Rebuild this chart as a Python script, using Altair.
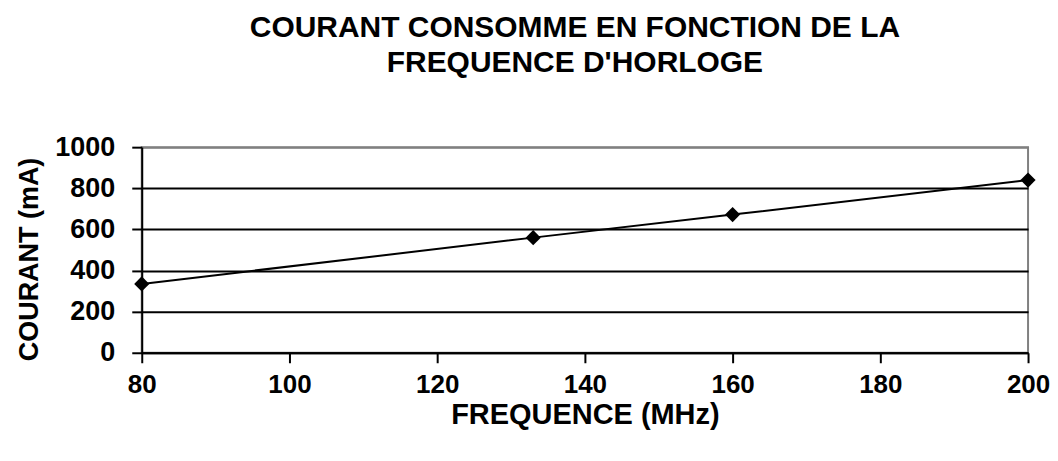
import altair as alt
import pandas as pd

frequence = [80, 133, 160, 200]
courant = [335, 560, 672, 840]
x_ticks = [80, 100, 120, 140, 160, 180, 200]
y_ticks = [0, 200, 400, 600, 800, 1000]

df = pd.DataFrame({"f": frequence, "c": courant})

FONT = "Liberation Sans"

x = alt.X("f:Q", scale=alt.Scale(domain=[80, 200], nice=False, zero=False),
          axis=alt.Axis(values=x_ticks, title="FREQUENCE (MHz)", grid=False, format="d",
                        domainColor="black", domainWidth=2,
                        tickColor="black", tickWidth=2, tickSize=10,
                        labelFont=FONT, labelFontSize=26, labelFontWeight="bold",
                        labelColor="black", labelPadding=9, labelFlush=False,
                        titleFont=FONT, titleFontSize=29, titleFontWeight="bold",
                        titleColor="black", titleX=444, titleY=62,
                        titleBaseline="middle", titleAlign="center"))
y = alt.Y("c:Q", scale=alt.Scale(domain=[0, 1000], nice=False),
          axis=alt.Axis(values=y_ticks, title="COURANT (mA)", grid=True, format="d",
                        gridColor={"condition": {"test": "datum.value === 1000", "value": "#808080"}, "value": "black"},
                        gridWidth=2,
                        domainColor="black", domainWidth=2,
                        tickColor="black", tickWidth=2, tickSize=10,
                        labelFont=FONT, labelFontSize=27, labelFontWeight="bold",
                        labelColor="black", labelPadding=17, labelFlush=False,
                        titleFont=FONT, titleFontSize=27, titleFontWeight="bold",
                        titleColor="black", titleX=-112, titleY=112, titleAngle=-90,
                        titleBaseline="middle", titleAlign="center"))

line = alt.Chart(df).mark_line(color="black", strokeWidth=2).encode(x=x, y=y)
pts = alt.Chart(df).mark_point(shape="diamond", filled=True, color="black",
                               size=230, opacity=1).encode(x=x, y=y)

chart = alt.layer(line, pts).properties(
    width=888, height=206,
    title=alt.TitleParams(
        text=["COURANT CONSOMME EN FONCTION DE LA", "FREQUENCE D'HORLOGE"],
        font=FONT, fontSize=30, fontWeight="bold", color="black",
        lineHeight=35, anchor="middle", dx=-10, offset=55),
    autosize=alt.AutoSizeParams(type="none"),
    padding={"left": 134, "top": 139, "right": 22, "bottom": 100},
    background="white",
).configure_view(stroke="#808080", strokeWidth=2)

chart.save("out.html", embed_options={"renderer": "svg", "actions": False})
